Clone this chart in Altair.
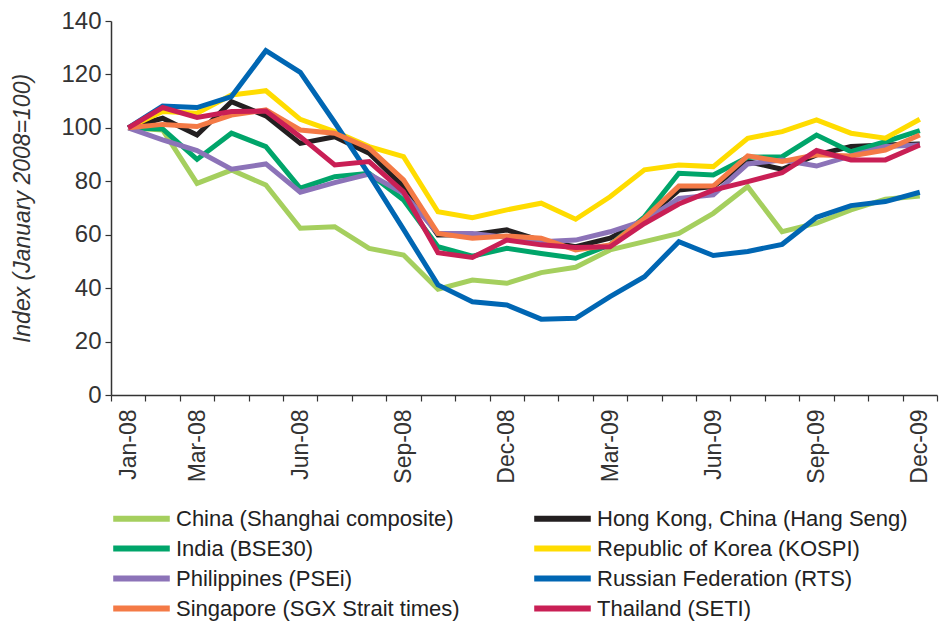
import altair as alt
import pandas as pd

months = ["Jan-08", "Feb-08", "Mar-08", "Apr-08", "May-08", "Jun-08", "Jul-08", "Aug-08",
          "Sep-08", "Oct-08", "Nov-08", "Dec-08", "Jan-09", "Feb-09", "Mar-09", "Apr-09",
          "May-09", "Jun-09", "Jul-09", "Aug-09", "Sep-09", "Oct-09", "Nov-09", "Dec-09"]
shown_labels = ["Jan-08", "Mar-08", "Jun-08", "Sep-08", "Dec-08", "Mar-09", "Jun-09", "Sep-09", "Dec-09"]

series_names = ["China (Shanghai composite)", "Hong Kong, China (Hang Seng)",
                "India (BSE30)", "Republic of Korea (KOSPI)",
                "Philippines (PSEi)", "Russian Federation (RTS)",
                "Singapore (SGX Strait times)", "Thailand (SETI)"]
series_colors = ["#A5CF5E", "#231F20", "#00A56A", "#FFDC00",
                 "#8C73B8", "#0066B3", "#F47A46", "#C91F55"]

china = [100, 99.2, 79.2, 84.2, 78.6, 62.4, 63.0, 54.9, 52.4, 39.6, 43.0, 41.8,
         45.8, 47.8, 54.3, 57.4, 60.5, 68.0, 78.0, 61.1, 64.3, 69.3, 73.3, 74.5]
hongkong = [100, 103.6, 97.3, 109.8, 104.5, 94.2, 96.7, 90.5, 78.0, 59.9, 60.0, 61.8,
            57.8, 55.5, 58.7, 65.5, 76.7, 78.0, 87.4, 84.5, 89.9, 93.0, 93.6, 94.0]
india = [100, 99.6, 88.2, 98.0, 93.0, 77.4, 81.7, 83.0, 73.0, 55.5, 52.0, 54.9,
         53.0, 51.2, 56.2, 66.7, 83.0, 82.4, 89.0, 89.2, 97.3, 91.1, 94.8, 99.0]
korea = [100, 106.1, 105.5, 112.3, 113.9, 103.2, 98.6, 93.0, 89.2, 68.6, 66.4, 69.3,
         71.8, 65.8, 74.2, 84.3, 86.1, 85.5, 96.1, 98.6, 103.0, 98.0, 96.1, 103.2]
philippines = [100, 95.5, 91.5, 84.5, 86.5, 75.9, 79.5, 82.7, 75.5, 60.5, 60.5, 59.0,
               57.4, 58.0, 61.1, 65.3, 73.6, 74.9, 86.5, 88.0, 85.7, 89.5, 93.0, 93.6]
russia = [100, 108.2, 107.6, 111.7, 128.9, 120.8, 102.0, 82.5, 62.0, 41.2, 34.9, 33.7,
          28.4, 28.7, 36.8, 44.3, 57.4, 52.2, 53.7, 56.4, 66.5, 70.9, 72.4, 75.9]
singapore = [100, 101.3, 100.5, 104.8, 106.7, 99.2, 98.0, 92.4, 80.5, 60.5, 58.7, 59.5,
             58.7, 54.3, 56.2, 66.1, 78.2, 78.2, 89.5, 87.4, 89.9, 89.5, 91.7, 97.3]
thailand = [100, 107.6, 103.9, 106.1, 106.3, 96.7, 86.1, 87.4, 76.0, 53.3, 51.5, 58.0,
            56.2, 55.2, 55.5, 64.2, 71.5, 76.7, 79.9, 83.2, 91.5, 88.0, 88.0, 93.6]

all_values = [china, hongkong, india, korea, philippines, russia, singapore, thailand]

rows = []
for si, (name, vals) in enumerate(zip(series_names, all_values)):
    for m, v in zip(months, vals):
        rows.append({"month": m, "series": name, "value": v, "order": si})
df = pd.DataFrame(rows)

FONT = "Liberation Sans"
label_list = "[" + ",".join("'" + s + "'" for s in shown_labels) + "]"

chart = alt.Chart(df).mark_line(strokeWidth=5, strokeJoin="miter").encode(
    x=alt.X("month:O", sort=months,
            scale=alt.Scale(type="band", paddingInner=0, paddingOuter=0),
            bandPosition=0.5,
            axis=alt.Axis(title=None, tickBand="extent", labelAngle=270,
                          labelAlign="right", labelBaseline="middle",
                          labelExpr="indexof(" + label_list + ", datum.label) >= 0 ? datum.label : ''",
                          labelOverlap=False, labelFontSize=23, labelFont=FONT,
                          labelColor="#333333", labelPadding=8, tickSize=6,
                          tickColor="#333333", domainColor="#333333", domainWidth=1.5,
                          tickWidth=1.2, grid=False)),
    y=alt.Y("value:Q", scale=alt.Scale(domain=[0, 140], nice=False, zero=True),
            axis=alt.Axis(title="Index (January 2008=100)", values=list(range(0, 141, 20)),
                          titleFont=FONT, titleFontSize=23, titleFontStyle="italic",
                          titleFontWeight="normal", titleColor="#333333", titlePadding=26,
                          labelFont=FONT, labelFontSize=24, labelColor="#333333",
                          labelPadding=4, tickSize=6, tickColor="#333333",
                          domainColor="#333333", domainWidth=1.5, tickWidth=1.2, grid=False)),
    color=alt.Color("series:N", sort=series_names,
                    scale=alt.Scale(domain=series_names, range=series_colors),
                    legend=alt.Legend(title=None, orient="none", legendX=13, legendY=480,
                                      columns=2, direction="horizontal",
                                      symbolType="M-2,0L2,0", symbolSize=800,
                                      symbolStrokeWidth=6, labelFont=FONT, labelFontSize=22,
                                      labelColor="#222222", labelOffset=17, columnPadding=62,
                                      rowPadding=0, labelLimit=400)),
    order=alt.Order("order:Q"),
).properties(
    width=826, height=374,
    autosize=alt.AutoSizeParams(type="none"),
    padding={"left": 103, "top": 13, "right": 2, "bottom": 230},
).configure_view(stroke=None)

chart.save("out.html", embed_options={"renderer": "svg", "actions": False})
